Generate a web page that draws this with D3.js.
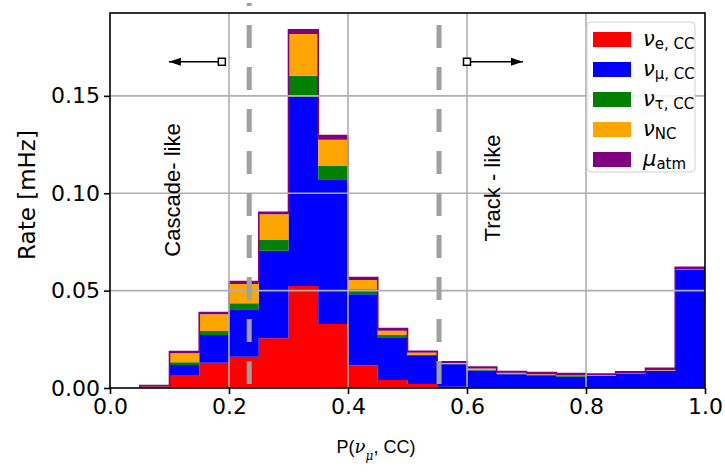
<!DOCTYPE html>
<html>
<head>
<meta charset="utf-8">
<script src="https://cdn.jsdelivr.net/npm/d3@7"></script>
<style>
  body { margin: 0; background: #fff; }
  svg { display: block; }
</style>
</head>
<body>
<div id="chart"></div>
<script>
// bin lower edges, width 0.05
const binStart = [0.00, 0.05, 0.10, 0.15, 0.20, 0.25, 0.30, 0.35, 0.40, 0.45,
                  0.50, 0.55, 0.60, 0.65, 0.70, 0.75, 0.80, 0.85, 0.90, 0.95];
const binWidth = 0.05;

// rates in mHz per component
const nueCC   = [0, 0.0002, 0.0063, 0.0130, 0.0161, 0.0255, 0.0524, 0.0329, 0.0115, 0.0041,
                 0.0021, 0.0007, 0.0002, 0.0001, 0.0001, 0.0001, 0.0001, 0.0001, 0.0001, 0.0001];
const numuCC  = [0, 0.0002, 0.0055, 0.0142, 0.0243, 0.0450, 0.0972, 0.0743, 0.0366, 0.0219,
                 0.0143, 0.0115, 0.0088, 0.0070, 0.0064, 0.0057, 0.0061, 0.0071, 0.0088, 0.0605];
const nutauCC = [0, 0.0001, 0.0014, 0.0021, 0.0031, 0.0055, 0.0107, 0.0068, 0.0026, 0.0012,
                 0.0006, 0.0003, 0.0004, 0.0003, 0.0003, 0.0003, 0.0001, 0.0001, 0.0001, 0.0001];
const nuNC    = [0, 0.0004, 0.0046, 0.0086, 0.0099, 0.0132, 0.0215, 0.0134, 0.0048, 0.0022,
                 0.0012, 0.0004, 0.0006, 0.0004, 0.0003, 0.0003, 0.0002, 0.0002, 0.0002, 0.0002];
const muAtm   = [0, 0.0003, 0.0009, 0.0008, 0.0012, 0.0010, 0.0021, 0.0022, 0.0012, 0.0011,
                 0.0006, 0.0006, 0.0008, 0.0007, 0.0008, 0.0010, 0.0007, 0.0008, 0.0009, 0.0011];

const keys = ["nue", "numu", "nutau", "nc", "mu"];
const colors = { nue: "#ff0000", numu: "#0000ff", nutau: "#008000", nc: "#ffa500", mu: "#800080" };

const xTicks = [0.0, 0.2, 0.4, 0.6, 0.8, 1.0];
const yTicks = [0.00, 0.05, 0.10, 0.15];
const cuts = [0.234, 0.553];

const width = 725, height = 472;
const margin = { top: 13, right: 20, bottom: 84, left: 110 };

const table = binStart.map((b, i) => ({
  x0: b, nue: nueCC[i], numu: numuCC[i], nutau: nutauCC[i], nc: nuNC[i], mu: muAtm[i]
}));

const stacked = d3.stack().keys(keys)(table);
const totals = table.map(d => keys.reduce((s, k) => s + d[k], 0));

const svg = d3.select("#chart").append("svg")
  .attr("width", width).attr("height", height);

const x = d3.scaleLinear().domain([0, 1]).range([margin.left, width - margin.right]);
const yMax = d3.max(totals) * 1.047;
const y = d3.scaleLinear().domain([0, yMax]).range([height - margin.bottom, margin.top]);

svg.append("defs").append("clipPath").attr("id", "clip")
  .append("rect")
  .attr("x", x(0)).attr("y", y(yMax))
  .attr("width", x(1) - x(0)).attr("height", y(0) - y(yMax));

const plot = svg.append("g").attr("clip-path", "url(#clip)");

// stacked step layers
const area = d3.area()
  .x(p => x(p[0]))
  .y0(p => y(p[1]))
  .y1(p => y(p[2]));

stacked.forEach(layer => {
  const pts = [];
  layer.forEach(d => {
    pts.push([d.data.x0, d[0], d[1]]);
    pts.push([d.data.x0 + binWidth, d[0], d[1]]);
  });
  plot.append("path")
    .attr("fill", colors[layer.key])
    .attr("d", area(pts));
});

// outline of the total
const outline = [];
totals.forEach((t, i) => {
  outline.push([binStart[i], t]);
  outline.push([binStart[i] + binWidth, t]);
});
outline.push([1, 0]);
plot.append("path")
  .attr("fill", "none")
  .attr("stroke", colors.mu)
  .attr("stroke-width", 1.6)
  .attr("d", d3.line().x(p => x(p[0])).y(p => y(p[1]))(outline.slice(1)));

// grid on top of bars
const grid = svg.append("g").attr("stroke", "#b0b0b0").attr("stroke-width", 1.6);
xTicks.slice(1, -1).forEach(t => {
  grid.append("line").attr("x1", x(t)).attr("x2", x(t)).attr("y1", y(0)).attr("y2", y(yMax));
});
yTicks.slice(1).forEach(t => {
  grid.append("line").attr("x1", x(0)).attr("x2", x(1)).attr("y1", y(t)).attr("y2", y(t));
});

// cut lines
cuts.forEach((c, i) => {
  svg.append("line")
    .attr("x1", x(c)).attr("x2", x(c))
    .attr("y1", i === 0 ? 3 : y(yMax)).attr("y2", y(0))
    .attr("stroke", "#a0a0a0")
    .attr("stroke-width", 5)
    .attr("stroke-dasharray", "23,19")
    .attr("stroke-dashoffset", i === 0 ? 20 : 30);
});

// frame
svg.append("rect")
  .attr("x", x(0)).attr("y", y(yMax))
  .attr("width", x(1) - x(0)).attr("height", y(0) - y(yMax))
  .attr("fill", "none").attr("stroke", "#000").attr("stroke-width", 1.6);

// axes
const xAxis = svg.append("g")
  .attr("transform", `translate(0,${y(0)})`)
  .call(d3.axisBottom(x).tickValues(xTicks).tickFormat(d3.format(".1f")).tickSize(6).tickPadding(4));
const yAxis = svg.append("g")
  .attr("transform", `translate(${x(0)},0)`)
  .call(d3.axisLeft(y).tickValues(yTicks).tickFormat(d3.format(".2f")).tickSize(6).tickPadding(4));
[xAxis, yAxis].forEach(g => {
  g.select(".domain").remove();
  g.selectAll("line").attr("stroke", "#000").attr("stroke-width", 1.6);
  g.selectAll("text").attr("fill", "#000")
    .style("font-family", "DejaVu Sans").style("font-size", "22px");
});

svg.append("text")
  .attr("transform", "translate(35,195) rotate(-90)")
  .attr("text-anchor", "middle")
  .style("font-family", "DejaVu Sans").style("font-size", "23px")
  .text("Rate [mHz]");

const xl = svg.append("text")
  .attr("x", 376).attr("y", 453)
  .attr("text-anchor", "middle")
  .style("font-family", "Liberation Sans").style("font-size", "18px");
xl.append("tspan").text("P(");
xl.append("tspan").style("font-family", "DejaVu Serif").style("font-style", "italic").text("ν");
xl.append("tspan").attr("dy", 7).style("font-size", "12px")
  .style("font-family", "DejaVu Serif").style("font-style", "italic").text("μ");
xl.append("tspan").attr("dy", -7).text(", CC)");

// region annotations
const note = (xc, yc, label) => svg.append("text")
  .attr("transform", `translate(${xc},${yc}) rotate(-90)`)
  .attr("text-anchor", "middle")
  .style("font-family", "Liberation Sans").style("font-size", "22px")
  .text(label);
note(x(0.118), 190, "Cascade- like");
note(x(0.655), 188, "Track - like");

svg.append("defs").append("marker")
  .attr("id", "arr").attr("viewBox", "0 0 12 10")
  .attr("refX", 12).attr("refY", 5)
  .attr("markerWidth", 12).attr("markerHeight", 10)
  .attr("markerUnits", "userSpaceOnUse")
  .attr("orient", "auto")
  .append("path").attr("d", "M0,1 L12,5 L0,9 Z").attr("fill", "#000");

const arrows = [[0.188, 0.099], [0.600, 0.694]];
arrows.forEach(([from, to]) => {
  svg.append("line")
    .attr("x1", x(from)).attr("x2", x(to))
    .attr("y1", y(0.1675)).attr("y2", y(0.1675))
    .attr("stroke", "#000").attr("stroke-width", 1.6)
    .attr("marker-end", "url(#arr)");
  svg.append("rect")
    .attr("x", x(from) - 3.5).attr("y", y(0.1675) - 3.5)
    .attr("width", 7).attr("height", 7)
    .attr("fill", "#fff").attr("stroke", "#000").attr("stroke-width", 1.5);
});

// legend
const legendItems = [
  { key: "nue", main: "ν", sub: "e, CC" },
  { key: "numu", main: "ν", sub: "μ, CC" },
  { key: "nutau", main: "ν", sub: "τ, CC" },
  { key: "nc", main: "ν", sub: "NC" },
  { key: "mu", main: "μ", sub: "atm" }
];
const lg = svg.append("g").attr("transform", "translate(587,22)");
lg.append("rect")
  .attr("width", 108).attr("height", 150).attr("rx", 4)
  .attr("fill", "#fff").attr("fill-opacity", 0.85)
  .attr("stroke", "#d0d0d0");
legendItems.forEach((it, i) => {
  const row = lg.append("g").attr("transform", `translate(6,${10 + i * 30})`);
  row.append("rect").attr("width", 38).attr("height", 15).attr("fill", colors[it.key]);
  const t = row.append("text").attr("x", 50).attr("y", 14)
    .style("font-family", "DejaVu Sans").style("font-size", "21px");
  t.append("tspan").style("font-style", "italic").text(it.main);
  t.append("tspan").attr("dy", 3).style("font-size", "15px").text(it.sub);
});
</script>
</body>
</html>
